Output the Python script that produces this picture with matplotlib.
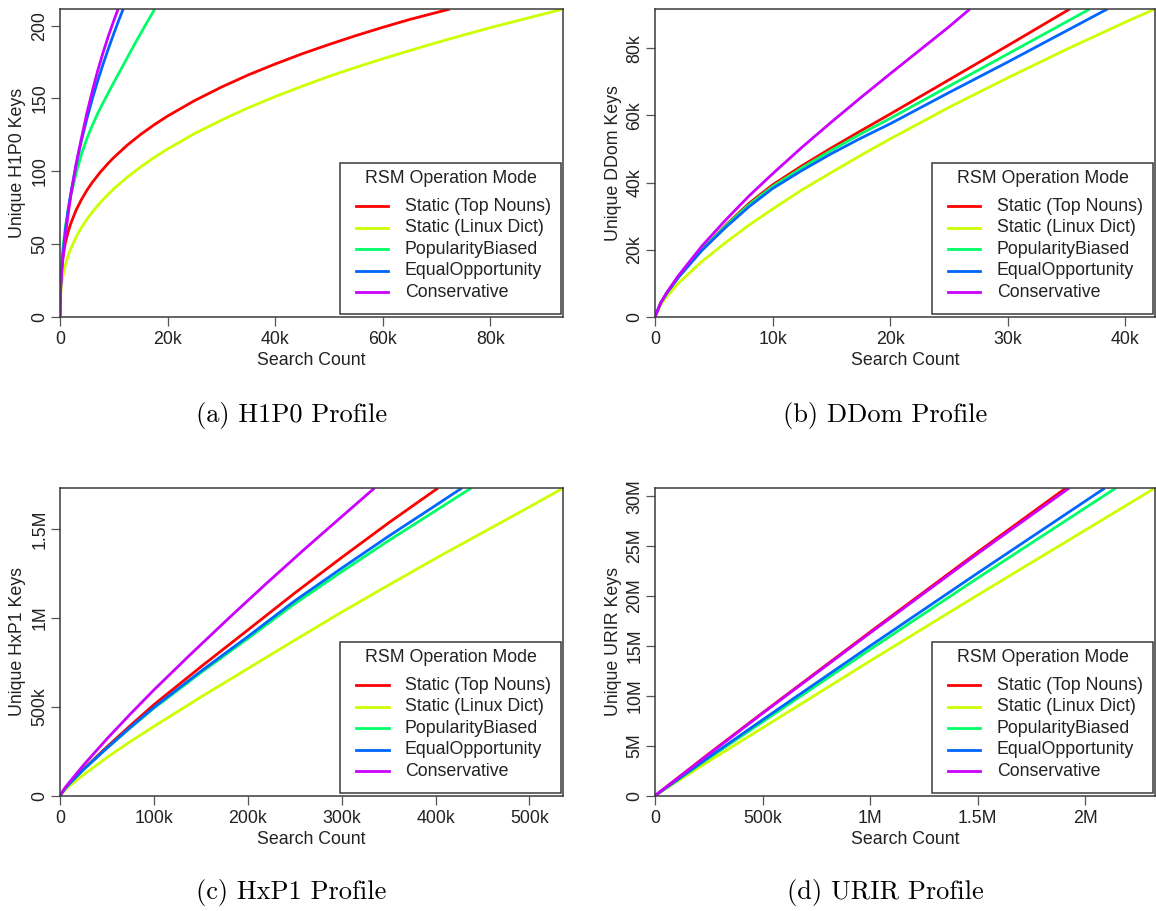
import matplotlib
matplotlib.use("Agg")
import matplotlib.pyplot as plt
from matplotlib.patches import Rectangle
from matplotlib.lines import Line2D
from matplotlib.ticker import FixedLocator, FuncFormatter

plt.rcParams['font.family'] = ['Liberation Sans', 'DejaVu Sans']

# ---------------- data ----------------
modes = ["Static (Top Nouns)", "Static (Linux Dict)", "PopularityBiased",
         "EqualOpportunity", "Conservative"]
colors = ["#FF0000", "#CCFF00", "#00FF66", "#0066FF", "#CC00FF"]
legend_title = "RSM Operation Mode"

# (a) H1P0
a_red_x = [0, 100, 250, 500, 1000, 1500, 2000, 3000, 4000, 5000, 6000, 7500, 9000, 10000, 12500, 15000,
           17500, 20000, 25000, 30000, 35000, 40000, 45000, 50000, 55000, 60000, 65000, 72500]
a_red_y = [0, 23.6, 32.0, 40.3, 50.8, 58.2, 64.0, 73.3, 80.6, 86.9, 92.3, 99.4, 105.6, 109.4, 117.9, 125.3,
           131.9, 137.9, 148.5, 157.8, 166.2, 173.7, 180.7, 187.1, 193.2, 198.9, 204.3, 211.5]
a_yel_x = [0, 100, 250, 500, 1000, 1500, 2000, 3000, 4000, 5000, 6000, 7500, 9000, 10000, 12500, 15000,
           17500, 20000, 25000, 30000, 35000, 40000, 45000, 50000, 55000, 60000, 65000, 70000, 75000,
           80000, 85000, 93500]
a_yel_y = [0, 14.4, 20.7, 27.1, 35.6, 41.8, 46.8, 54.8, 61.4, 67.0, 71.9, 78.5, 84.3, 87.9, 95.9, 103.0,
           109.4, 115.3, 125.9, 135.1, 143.6, 151.3, 158.4, 165.2, 171.4, 177.3, 182.9, 188.4, 193.6,
           198.7, 203.4, 211.5]
a_grn_x = [0, 100, 250, 500, 1000, 1500, 2000, 3000, 4000, 5000, 6000, 7000, 8000, 9000, 10000, 11000,
           12500, 14000, 15500, 17600]
a_grn_y = [0, 23.0, 34.0, 45.7, 61.6, 73.3, 83.0, 98.8, 111.8, 122.5, 131.5, 139.6, 147.0, 154.0, 161.0,
           167.8, 178.0, 188.2, 198.0, 211.5]
a_blu_x = [0, 100, 250, 500, 1000, 1500, 2000, 3000, 4000, 5000, 6000, 7000, 8000, 9000, 10000, 11000, 11750]
a_blu_y = [0, 18.1, 29.0, 41.5, 59.3, 73.2, 84.8, 104.6, 121.3, 136.1, 149.6, 162.0, 173.5, 184.3, 194.6,
           204.5, 211.5]
a_pur_x = [0, 100, 250, 500, 1000, 1500, 2000, 3000, 4000, 5000, 6000, 7000, 8000, 9000, 10000, 10800]
a_pur_y = [0, 17.0, 27.0, 38.0, 56.0, 70.0, 83.0, 105.0, 123.0, 140.0, 155.0, 169.0, 181.5, 193.0, 203.5, 211.5]

# (b) DDom
b_red_x = [0, 500, 1000, 2000, 4000, 6000, 8000, 10000, 12500, 15000, 17500, 20000, 25000, 30000, 35300]
b_red_y = [0, 4200, 7000, 11800, 20000, 27200, 33800, 39300, 45000, 50300, 55400, 60400, 70600, 80800, 91750]
b_yel_x = [0, 500, 1000, 2000, 4000, 6000, 8000, 10000, 12500, 15000, 17500, 20000, 25000, 30000, 35000, 40000, 42550]
b_yel_y = [0, 3600, 6000, 10000, 16500, 22100, 27300, 32100, 37800, 43000, 48100, 53000, 62400, 71200, 79700, 87800, 91750]
b_grn_x = [0, 500, 1000, 2000, 4000, 6000, 8000, 10000, 12500, 15000, 17500, 20000, 25000, 30000, 37000]
b_grn_y = [0, 4200, 7000, 11800, 20000, 27000, 33400, 38800, 44400, 49600, 54500, 59100, 68700, 78300, 91750]
b_blu_x = [0, 500, 1000, 2000, 4000, 6000, 8000, 10000, 12500, 15000, 17500, 20000, 25000, 30000, 38500]
b_blu_y = [0, 4200, 7000, 11800, 19800, 26600, 32800, 38200, 43600, 48600, 53200, 57500, 66800, 75900, 91750]
b_pur_x = [0, 500, 1000, 2000, 4000, 6000, 8000, 10000, 12500, 15000, 17500, 20000, 22500, 25000, 26800]
b_pur_y = [0, 4200, 7200, 12300, 21100, 28800, 36000, 42600, 50500, 58000, 65300, 72400, 79400, 86400, 91750]

# (c) HxP1
c_red_x = [0, 5000, 10000, 25000, 50000, 75000, 100000, 150000, 200000, 250000, 300000, 350000, 402600]
c_red_y = [0, 38000, 68000, 150000, 275000, 395000, 512000, 725000, 932000, 1140000, 1340000, 1535000, 1731000]
c_yel_x = [0, 5000, 10000, 25000, 50000, 75000, 100000, 150000, 200000, 250000, 300000, 350000, 400000, 450000, 500000, 536000]
c_yel_y = [0, 30000, 54000, 118000, 215000, 305000, 390000, 555000, 715000, 875000, 1033000, 1185000, 1335000, 1480000, 1625000, 1731000]
c_grn_x = [0, 5000, 10000, 25000, 50000, 75000, 100000, 150000, 200000, 250000, 300000, 350000, 400000, 438000]
c_grn_y = [0, 37000, 67000, 147000, 267000, 382000, 492000, 692000, 884000, 1080000, 1260000, 1435000, 1603000, 1731000]
c_blu_x = [0, 5000, 10000, 25000, 50000, 75000, 100000, 150000, 200000, 250000, 300000, 350000, 400000, 428000]
c_blu_y = [0, 37000, 67000, 147000, 268000, 385000, 497000, 700000, 895000, 1096000, 1280000, 1460000, 1633000, 1731000]
c_pur_x = [0, 5000, 10000, 25000, 50000, 75000, 100000, 137000, 180000, 220000, 260000, 300000, 335000]
c_pur_y = [0, 42000, 76000, 172000, 320000, 460000, 595000, 785000, 1000000, 1195000, 1385000, 1570000, 1731000]

# (d) URIR
d_red_x = [0, 250000, 500000, 1000000, 1500000, 1911000]
d_red_y = [0, 4.2e6, 8.3e6, 16.4e6, 24.4e6, 30.83e6]
d_yel_x = [0, 250000, 500000, 1000000, 1500000, 2000000, 2325000]
d_yel_y = [0, 3.45e6, 6.8e6, 13.5e6, 20.1e6, 26.6e6, 30.83e6]
d_grn_x = [0, 250000, 500000, 1000000, 1500000, 2143000]
d_grn_y = [0, 3.75e6, 7.4e6, 14.65e6, 21.8e6, 30.83e6]
d_blu_x = [0, 250000, 500000, 1000000, 1500000, 2092000]
d_blu_y = [0, 3.85e6, 7.6e6, 15.0e6, 22.3e6, 30.83e6]
d_pur_x = [0, 250000, 500000, 1000000, 1500000, 1926000]
d_pur_y = [0, 4.15e6, 8.25e6, 16.3e6, 24.25e6, 30.83e6]

profiles = ["H1P0", "DDom", "HxP1", "URIR"]
captions = ["(a) H1P0 Profile", "(b) DDom Profile", "(c) HxP1 Profile", "(d) URIR Profile"]
x_limits = [93500, 42550, 536000, 2325000]
y_limits = [211.5, 91750, 1731000, 30.83e6]
x_ticks = [[0, 20000, 40000, 60000, 80000],
           [0, 10000, 20000, 30000, 40000],
           [0, 100000, 200000, 300000, 400000, 500000],
           [0, 500000, 1000000, 1500000, 2000000]]
y_ticks = [[0, 50, 100, 150, 200],
           [0, 20000, 40000, 60000, 80000],
           [0, 500000, 1000000, 1500000],
           [0, 5e6, 10e6, 15e6, 20e6, 25e6, 30e6]]

series = [
    [(a_red_x, a_red_y), (a_yel_x, a_yel_y), (a_grn_x, a_grn_y), (a_blu_x, a_blu_y), (a_pur_x, a_pur_y)],
    [(b_red_x, b_red_y), (b_yel_x, b_yel_y), (b_grn_x, b_grn_y), (b_blu_x, b_blu_y), (b_pur_x, b_pur_y)],
    [(c_red_x, c_red_y), (c_yel_x, c_yel_y), (c_grn_x, c_grn_y), (c_blu_x, c_blu_y), (c_pur_x, c_pur_y)],
    [(d_red_x, d_red_y), (d_yel_x, d_yel_y), (d_grn_x, d_grn_y), (d_blu_x, d_blu_y), (d_pur_x, d_pur_y)],
]

# ---------------- layout ----------------
W, H = 1156, 911
DPI = 100
fig = plt.figure(figsize=(W / DPI, H / DPI), dpi=DPI)
fig.patch.set_facecolor("white")

# axes rectangles in pixels: left, top, right, bottom
axes_px = [(60, 9, 563, 316.7), (655, 9, 1155, 316.7),
           (60, 488, 563.3, 795.7), (655, 488, 1155, 795.7)]
caption_px = [(291.5, 415), (885, 415), (291.5, 892), (885, 892)]

FS = 12.8
TXT = "#222222"
BOX = "#3a3a3a"


def fmt(v, pos=None):
    if v == 0:
        return "0"
    if abs(v) >= 1e6:
        return f"{v / 1e6:g}M"
    if abs(v) >= 1e3:
        return f"{v / 1e3:g}k"
    return f"{v:g}"


def fx(px):
    return px / W


def fy(py):
    return 1 - py / H


for i in range(4):
    l, t, r, b = axes_px[i]
    ax = fig.add_axes([fx(l), fy(b), (r - l) / W, (b - t) / H])
    for (xs, ys), c in zip(series[i], colors):
        ax.plot(xs, ys, color=c, lw=2.0, solid_capstyle="butt", solid_joinstyle="round")
    ax.set_xlim(0, x_limits[i])
    ax.set_ylim(0, y_limits[i])
    ax.xaxis.set_major_locator(FixedLocator(x_ticks[i]))
    ax.yaxis.set_major_locator(FixedLocator(y_ticks[i]))
    ax.xaxis.set_major_formatter(FuncFormatter(fmt))
    ax.yaxis.set_major_formatter(FuncFormatter(fmt))
    ax.tick_params(axis="both", length=6.5, width=0.9, color="#555555",
                   labelsize=FS, labelcolor=TXT, direction="out")
    ax.tick_params(axis="x", pad=3.6)
    ax.tick_params(axis="y", pad=1.8, labelrotation=90)
    for lab in ax.get_yticklabels():
        lab.set_va("center")
    for s in ax.spines.values():
        s.set_color(BOX)
        s.set_linewidth(1.1)
    ax.set_xlabel("Search Count", fontsize=FS, color=TXT, va="center")
    ax.xaxis.set_label_coords(0.5, -44.0 / (b - t))
    ax.set_ylabel(f"Unique {profiles[i]} Keys", fontsize=FS, color=TXT, va="center")
    ax.yaxis.set_label_coords(-42.0 / (r - l), 0.5)

    # legend box flush with the lower-right corner of the plot region
    bw, bh = 221, 151
    L = r - 2 - bw
    T = b - 3 - bh
    fig.add_artist(Rectangle((fx(L), fy(T + bh)), bw / W, bh / H, transform=fig.transFigure,
                             facecolor="white", edgecolor=BOX, lw=1.1, zorder=5))
    fig.text(fx(L + bw / 2), fy(T + 15.7), legend_title, ha="center", va="center",
             fontsize=FS, color=TXT, zorder=6)
    row_offsets = [43.4, 65.0, 86.7, 108.0, 129.4]
    for name, c, ro in zip(modes, colors, row_offsets):
        yy = fy(T + ro)
        fig.add_artist(Line2D([fx(L + 15.7), fx(L + 48.3)], [yy, yy],
                              transform=fig.transFigure, color=c, lw=2.0, zorder=6))
        fig.text(fx(L + 64.7), yy, name, ha="left", va="center",
                 fontsize=FS, color=TXT, zorder=6)

    cx, cy = caption_px[i]
    fig.text(fx(cx), fy(cy), captions[i], ha="center", va="center",
             fontsize=19, family="cmr10", color="black")

fig.savefig("out.png", dpi=DPI, facecolor="white")
